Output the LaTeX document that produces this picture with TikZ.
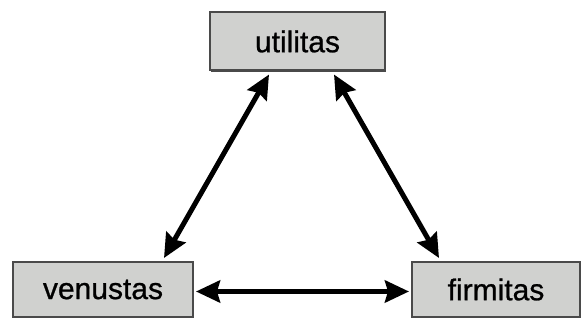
\documentclass[tikz,border=0pt]{standalone}
\usepackage{fontspec}
\setmainfont{Liberation Sans}
\newfontfamily\vitruvfont{Liberation Sans}[FakeBold=0.8]
\usepackage{tikz}
\usetikzlibrary{arrows.meta,shadows}
\usepackage{xcolor}
\definecolor{boxgray}{HTML}{D0D1CF}
\definecolor{edgegray}{HTML}{4A4A4A}

\begin{document}
\begin{tikzpicture}[x=1pt,y=1pt,>={Stealth[length=24pt,width=22pt,inset=3pt]},line cap=round,
  vitruv/.style={draw=edgegray,line width=2pt,fill=boxgray,inner sep=0pt,
    drop shadow={shadow xshift=0.8pt,shadow yshift=-1.5pt,fill=edgegray,opacity=1},
    font=\vitruvfont\fontsize{30}{32}\selectfont},
  link/.style={<->,line width=5pt,black}]
\useasboundingbox (0,0) rectangle (583,320);
\node[vitruv,minimum width=175pt,minimum height=58pt] (utilitas) at (297.5,278.5) {utilitas};
\node[vitruv,minimum width=180pt,minimum height=55pt] (venustas) at (103,30.5) {venustas};
\node[vitruv,minimum width=168pt,minimum height=55pt] (firmitas) at (496,30.5) {firmitas};
\draw[link] ([xshift=-30pt,yshift=3pt]venustas.north east) -- ([xshift=60pt,yshift=-3pt]utilitas.south west);
\draw[link] ([xshift=-52pt,yshift=-3pt]utilitas.south east) -- ([xshift=28pt,yshift=3pt]firmitas.north west);
\draw[link] ([xshift=2pt,yshift=-2pt]venustas.east) -- ([xshift=-2pt,yshift=-2pt]firmitas.west);
\end{tikzpicture}
\end{document}
